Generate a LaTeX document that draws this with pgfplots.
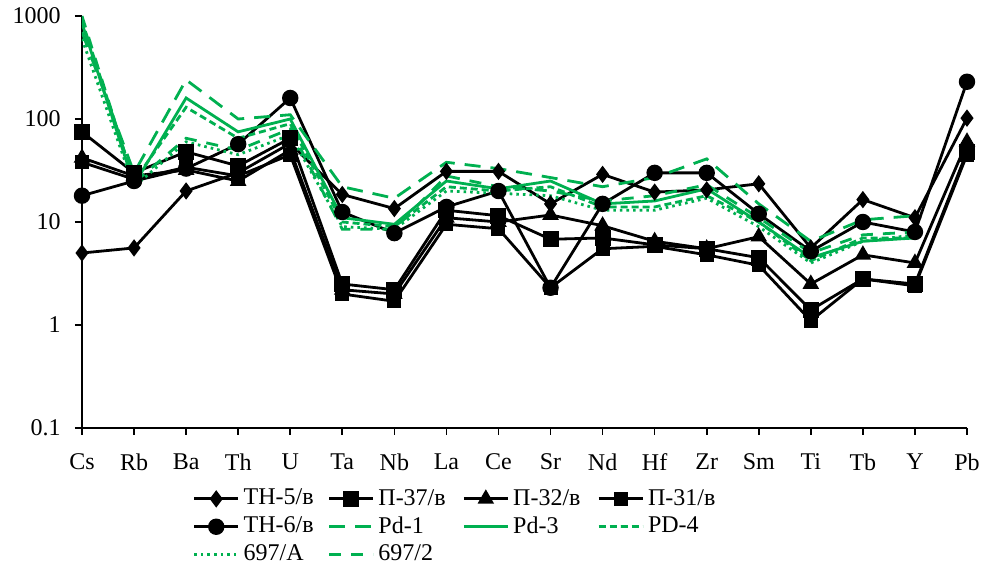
\documentclass[border=0pt]{standalone}
\usepackage{fontspec}
\setmainfont{Liberation Serif}
\usepackage{pgfplots}
\pgfplotsset{compat=1.18}
\definecolor{exg}{RGB}{0,176,80}
\newcommand{\lgt}[1]{\makebox[40pt][l]{#1}}
\begin{document}
\fontsize{12}{14}\selectfont
\begin{tikzpicture}
\path[use as bounding box] (-41pt,-72pt) rectangle (449.5pt,214pt);
\begin{axis}[
  at={(0pt,0pt)}, anchor=south west,
  scale only axis, width=442.5pt, height=206pt,
  ymode=log, log basis y=10, ymin=0.1, ymax=1000,
  xmin=0, xmax=17,
  axis x line=bottom, axis y line=left,
  axis line style={-, line width=1pt},
  xtick={0,...,17},
  xticklabels={Cs,Rb,Ba,Th,U,Ta,Nb,La,Ce,Sr,Nd,Hf,Zr,Sm,Ti,Tb,Y,Pb},
  ytick={0.1,1,10,100,1000}, yticklabels={0.1,1,10,100,1000},
  tick align=outside, major tick length=3.5pt, minor tick length=2pt,
  tick style={black, line width=0.8pt},
  xticklabel style={yshift=-5pt},
  yticklabel style={xshift=-3pt},
  /pgf/number format/assume math mode=true,
  legend columns=4,
  legend style={draw=none, fill=none, at={(0.118,-0.128)}, anchor=north west,
    column sep=0pt, row sep=0pt,
    nodes={inner sep=2pt}},
  legend cell align=left,
  legend image code/.code={\draw[mark repeat=2,mark phase=2,#1] plot coordinates {(0pt,0pt)(11pt,0pt)(22pt,0pt)};},
  every axis plot/.append style={line width=1.4pt},
]
% black series
\addplot[black, mark=diamond*, mark size=3.2pt] coordinates {
(0,5) (1,5.6) (2,20) (3,30) (4,58) (5,18.5) (6,13.5) (7,31) (8,31) (9,15) (10,29) (11,19.5) (12,20.5) (13,23.5) (14,5.6) (15,16.5) (16,11) (17,102)};
\addlegendentry{\lgt{ТН-5/в}}
\addplot[black, mark=square*, mark size=3.3pt] coordinates {
(0,75) (1,30) (2,48) (3,35) (4,65) (5,2.5) (6,2.2) (7,13) (8,11.5) (9,6.8) (10,7) (11,6) (12,5.5) (13,4.5) (14,1.4) (15,2.8) (16,2.5) (17,48)};
\addlegendentry{\lgt{П-37/в}}
\addplot[black, mark=triangle*, mark size=3.4pt] coordinates {
(0,42) (1,28) (2,32) (3,25) (4,50) (5,2.2) (6,2.0) (7,11) (8,10) (9,11.7) (10,9.2) (11,6.5) (12,5.5) (13,7.2) (14,2.5) (15,4.8) (16,4) (17,60)};
\addlegendentry{\lgt{П-32/в}}
\addplot[black, mark=square*, mark size=2.8pt] coordinates {
(0,38) (1,26) (2,34) (3,28) (4,45) (5,2.0) (6,1.7) (7,9.5) (8,8.6) (9,2.3) (10,5.5) (11,5.8) (12,4.8) (13,3.8) (14,1.1) (15,2.8) (16,2.4) (17,45)};
\addlegendentry{\lgt{П-31/в}}
\addplot[black, mark=*, mark size=3.4pt] coordinates {
(0,18) (1,25) (2,33) (3,57) (4,160) (5,12.5) (6,7.8) (7,14) (8,20) (9,2.3) (10,15) (11,30) (12,30) (13,12) (14,5.2) (15,10) (16,8) (17,230)};
\addlegendentry{\lgt{ТН-6/в}}
% green series
\addplot[exg, dash pattern=on 8pt off 5pt] coordinates {
(0,700) (1,30) (2,240) (3,100) (4,110) (5,22) (6,17) (7,38) (8,33) (9,27) (10,22) (11,27) (12,41) (13,15) (14,6.5) (15,10.5) (16,11.5)};
\addlegendentry{\lgt{Pd-1}}
\addplot[exg] coordinates {
(0,850) (1,23) (2,160) (3,75) (4,100) (5,11) (6,9.5) (7,25) (8,21) (9,25) (10,15) (11,16) (12,21) (13,10) (14,4.5) (15,6.5) (16,7)};
\addlegendentry{\lgt{Pd-3}}
\addplot[exg, dash pattern=on 3.5pt off 2pt] coordinates {
(0,900) (1,25) (2,130) (3,65) (4,90) (5,10) (6,9) (7,22) (8,20) (9,22) (10,14) (11,14) (12,18) (13,10) (14,4.2) (15,7) (16,7)};
\addlegendentry{\lgt{PD-4}}
\addplot[exg, dash pattern=on 1.3pt off 2pt] coordinates {
(0,600) (1,22) (2,60) (3,45) (4,70) (5,9) (6,8.5) (7,20) (8,19) (9,18) (10,13) (11,13) (12,17) (13,9) (14,4) (15,6.5) (16,7.5)};
\addlegendentry{\lgt{697/A}}
\addplot[exg, dash pattern=on 6pt off 5pt] coordinates {
(0,1000) (1,24) (2,65) (3,50) (4,80) (5,8.5) (6,8.5) (7,28) (8,22) (9,20) (10,16) (11,18) (12,23) (13,11) (14,5) (15,7.5) (16,8)};
\addlegendentry{\lgt{697/2}}
\end{axis}
\end{tikzpicture}
\end{document}
